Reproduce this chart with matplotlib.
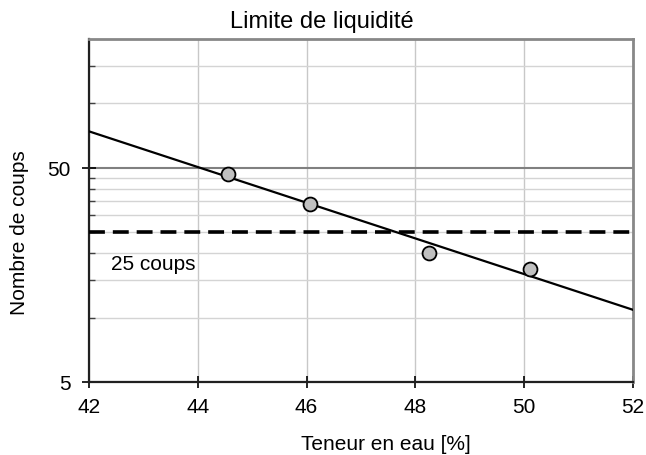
import numpy as np
import matplotlib
matplotlib.use("Agg")
import matplotlib.pyplot as plt
from matplotlib.ticker import FixedLocator, NullFormatter

# Essais de Casagrande : teneur en eau et nombre de coups
teneur = [44.56, 46.06, 48.25, 50.11]
coups = [47.0, 34.0, 20.0, 16.8]

x_ticks = [42, 44, 46, 48, 50, 52]
y_major = [5, 50]
y_minor = [10, 15, 20, 25, 30, 35, 40, 45, 100, 150]
coups_ref = 25

plt.rcParams["font.family"] = ["Liberation Sans", "DejaVu Sans"]
plt.rcParams["font.size"] = 15

fig = plt.figure(figsize=(6.46, 4.56), dpi=100)
ax = fig.add_axes([89 / 646, 1 - 383 / 456, (633 - 89) / 646, (383 - 40) / 456])

ax.set_yscale("log")
ax.set_xlim(42, 52)
ax.set_ylim(5, 200)

# droite de régression log10(N) = a + b*w
b, a = np.polyfit(teneur, np.log10(coups), 1)
w = np.array([42, 52])
ax.plot(w, 10 ** (a + b * w), color="black", lw=1.6, zorder=3)

ax.axhline(coups_ref, color="black", lw=2.6, dashes=(4.4, 2.2), zorder=3)
ax.text(42.4, 17.9, "25 coups", va="center", ha="left", fontsize=15)

ax.plot(teneur, coups, "o", ms=10, mfc="#c0c0c0", mec="black", mew=1.3,
        zorder=4, clip_on=False)

# axes et grilles
ax.xaxis.set_major_locator(FixedLocator(x_ticks))
ax.set_xticklabels([str(v) for v in x_ticks])
ax.yaxis.set_major_locator(FixedLocator(y_major))
ax.set_yticklabels([str(v) for v in y_major])
ax.yaxis.set_minor_locator(FixedLocator(y_minor))
ax.yaxis.set_minor_formatter(NullFormatter())

ax.grid(axis="x", which="major", color="#c8c8c8", lw=1.0)
ax.grid(axis="y", which="major", color="#808080", lw=1.5)
ax.grid(axis="y", which="minor", color="#d4d4d4", lw=1.0)
ax.set_axisbelow(True)

ax.tick_params(axis="x", which="major", direction="inout", length=8,
               width=1.2, color="black", pad=7)
ax.tick_params(axis="y", which="major", direction="inout", length=10,
               width=1.2, color="black", pad=8)
ax.tick_params(axis="y", which="minor", direction="in", length=4,
               width=1.0, color="#404040")

for side in ["left", "bottom"]:
    ax.spines[side].set_color("#202020")
    ax.spines[side].set_linewidth(1.6)
for side in ["top", "right"]:
    ax.spines[side].set_color("#888888")
    ax.spines[side].set_linewidth(2.0)

fig.text(322 / 646, 1 - 28 / 456, "Limite de liquidité", ha="center",
         va="baseline", fontsize=17)
fig.text(386 / 646, 1 - 450 / 456, "Teneur en eau [%]", ha="center",
         va="baseline", fontsize=15)
fig.text(20 / 646, 1 - 233 / 456, "Nombre de coups", ha="center",
         va="center", rotation=90, fontsize=15)

fig.savefig("out.png", dpi=100)
